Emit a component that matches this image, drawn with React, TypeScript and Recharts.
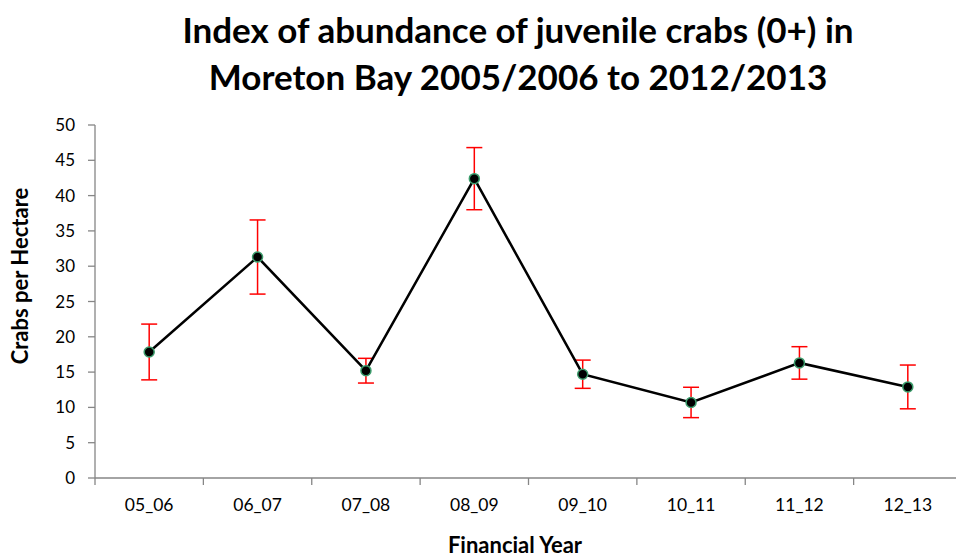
import React from 'react';
import { LineChart, Line, XAxis, YAxis, ErrorBar } from 'recharts';

const categories = ['05_06', '06_07', '07_08', '08_09', '09_10', '10_11', '11_12', '12_13'];
const values = [17.85, 31.3, 15.2, 42.4, 14.7, 10.7, 16.3, 12.9];
const errors = [3.95, 5.25, 1.75, 4.4, 2.0, 2.15, 2.3, 3.1];
const yTicks = [0, 5, 10, 15, 20, 25, 30, 35, 40, 45, 50];

const data = categories.map((c, i) => ({ name: c, x: i + 0.5, y: values[i], err: errors[i] }));
const xTicks: number[] = [];
for (let i = 0; i <= categories.length * 2; i++) xTicks.push(i / 2);

const FONT = 'Lato, "Open Sans", sans-serif';

const XTick = (props: any) => {
  const { x, y, payload } = props;
  const v = payload.value as number;
  if (Number.isInteger(v)) {
    return <line x1={x} x2={x} y1={y - 8} y2={y - 1} stroke="#868686" strokeWidth={1.3} />;
  }
  return (
    <text x={x} y={y + 25} textAnchor="middle" fill="#000" fontSize={17.5} fontFamily={FONT}>
      {categories[Math.floor(v)]}
    </text>
  );
};

export default function App() {
  return (
    <div style={{ position: 'absolute', left: 0, top: 0, width: 956, height: 557, overflow: 'hidden', background: '#fff' }}>
      <div style={{ position: 'absolute', left: 0, top: 6, width: 1036, textAlign: 'center', fontFamily: FONT, fontWeight: 700, fontSize: 35, lineHeight: '47px', color: '#000' }}>
        Index of abundance of juvenile crabs (0+) in<br />Moreton Bay 2005/2006 to 2012/2013
      </div>
      <div style={{ position: 'absolute', left: 415, top: 534, width: 200, textAlign: 'center', fontFamily: FONT, fontWeight: 700, fontSize: 22, lineHeight: '22px', color: '#000' }}>
        Financial Year
      </div>
      <div style={{ position: 'absolute', left: 20 - 110, top: 276 - 14, width: 220, height: 28, textAlign: 'center', fontFamily: FONT, fontWeight: 700, fontSize: 22, lineHeight: '28px', color: '#000', transform: 'rotate(-90deg)' }}>
        Crabs per Hectare
      </div>
      <div style={{ position: 'absolute', left: 0, top: 0 }}>
        <LineChart width={975} height={557} data={data} margin={{ top: 125, right: 13, left: 0, bottom: 0 }}>
          <XAxis
            dataKey="x"
            type="number"
            domain={[0, categories.length]}
            ticks={xTicks}
            interval={0}
            tickLine={false}
            axisLine={{ stroke: '#868686', strokeWidth: 1.3 }}
            tick={<XTick />}
            height={79}
          />
          <YAxis
            type="number"
            domain={[0, 50]}
            ticks={yTicks}
            interval={0}
            width={95}
            tickSize={7}
            tickLine={{ stroke: '#868686', strokeWidth: 1.3 }}
            axisLine={{ stroke: '#868686', strokeWidth: 1.3 }}
            tick={{ fill: '#000', fontSize: 17, fontFamily: FONT }}
            tickMargin={13}
          />
          <Line
            dataKey="y"
            stroke="#000"
            strokeWidth={2.5}
            isAnimationActive={false}
            dot={{ r: 5, fill: '#000', stroke: '#3c9c6c', strokeWidth: 1.5 }}
          >
            <ErrorBar dataKey="err" direction="y" width={8} stroke="#ff0000" strokeWidth={1.5} isAnimationActive={false} />
          </Line>
        </LineChart>
      </div>
    </div>
  );
}
